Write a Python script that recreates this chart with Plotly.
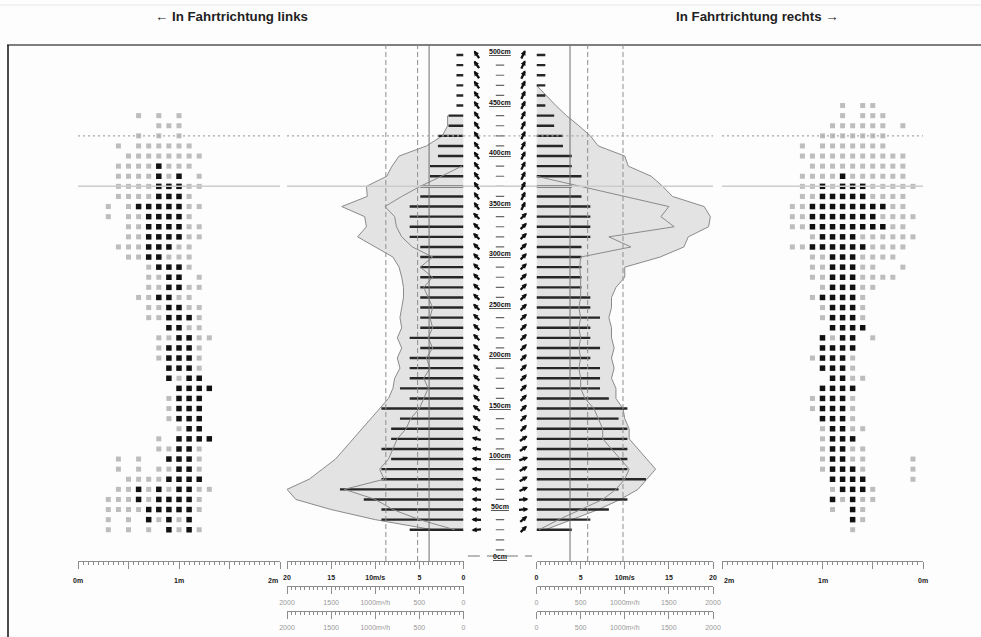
import math
import plotly.graph_objects as go

W, H = 981, 637

# ---------------------------------------------------------------- data
ROW_H = list(range(25, 500, 10))          # measurement rows, cm (25 ... 495)

LEFT_SPEED = [6.1, 9.3, 9.3, 11.3, 14.0, 9.3, 9.3, 8.2, 9.3, 8.2,
              8.2, 7.2, 9.3, 6.1, 7.2, 6.1, 6.1, 6.1, 4.9, 6.1,
              4.9, 4.9, 4.9, 4.9, 4.9, 4.9, 4.9, 4.9, 4.9, 6.1,
              6.1, 6.1, 6.1, 4.9, 4.9, 3.8, 3.8, 2.9, 2.9, 2.9,
              1.7, 1.7, 0.8, 0.8, 0.8, 0.8, 0.8, 0.8]
RIGHT_SPEED = [4.0, 6.1, 8.2, 10.3, 9.3, 12.4, 10.3, 10.3, 10.3, 10.3,
               10.3, 9.3, 10.3, 8.2, 7.2, 7.2, 7.2, 6.1, 7.2, 6.1,
               6.1, 7.2, 6.1, 6.1, 5.1, 5.1, 5.1, 5.1, 5.1, 6.1,
               6.1, 6.1, 6.1, 5.1, 4.0, 5.1, 4.0, 4.0, 3.0, 3.0,
               2.0, 2.0, 1.0, 1.0, 1.0, 1.0, 1.0, 1.0]

# wind direction per row, degrees clockwise from "up"
LEFT_DIR = [-95, -88, -88, -85, -88, -70, -85, -85, -80, -75,
            -55, -55, -50, -45, -45, -45, -45, -45, -45, -45,
            -45, -45, -45, -45, -45, -45, -45, -45, -45, -45,
            -45, -45, -35, -35, -35, -35, -35, -35, -35, -35,
            -35, -35, -35, -35, -35, -35, -35, -35]
RIGHT_DIR = [45, 50, 85, 85, 65, 60, 60, 70, 55, 55,
             45, 45, 45, 45, 45, 45, 45, 45, 45, 45,
             45, 45, 45, 45, 45, 45, 45, 45, 45, 45,
             45, 45, 25, 25, 25, 25, 25, 25, 25, 25,
             25, 25, 25, 25, 25, 25, 25, 25]

# gust envelope (filled) and mean profile, m/s
LEFT_OUT_H = list(range(25, 445, 10))
LEFT_OUT = [3.5, 10.0, 15.0, 19.0, 20.0, 17.5, 16.0, 14.5, 13.5, 12.5,
            11.5, 10.5, 9.5, 8.5, 8.0, 7.8, 7.2, 7.5, 7.0, 7.5,
            7.0, 7.2, 7.0, 6.8, 6.8, 7.0, 7.3, 8.0, 10.0, 12.0,
            11.0, 11.2, 13.8, 10.9, 11.0, 8.7, 8.1, 7.3, 4.2, 2.4,
            1.8, 1.8]
LEFT_IN_H = list(range(25, 395, 10))
LEFT_IN = [1.0, 5.0, 8.0, 10.0, 13.5, 9.0, 9.5, 8.5, 8.0, 7.5,
           6.5, 6.0, 5.0, 4.5, 4.0, 4.5, 3.8, 4.2, 3.5, 4.0,
           3.5, 3.8, 3.5, 4.0, 4.5, 3.5, 4.9, 3.5, 5.8, 7.0,
           7.6, 7.8, 8.9, 7.0, 4.9, 2.5, 0.2]
RIGHT_OUT_H = list(range(25, 475, 10))
RIGHT_OUT = [1.0, 4.0, 7.0, 9.5, 11.5, 12.5, 13.5, 12.5, 11.5, 10.5,
             10.5, 10.0, 9.8, 9.0, 9.0, 8.5, 8.8, 8.5, 8.8, 8.5,
             8.5, 8.2, 8.5, 8.5, 9.0, 10.0, 10.0, 14.0, 16.7, 17.2,
             19.5, 19.7, 19.0, 15.4, 14.3, 13.0, 10.4, 10.0, 7.0, 6.1,
             4.8, 3.4, 2.2, 1.1, 0.0]
RIGHT_IN_H = list(range(25, 385, 10))
RIGHT_IN = [0.3, 2.5, 5.0, 7.5, 9.0, 10.0, 10.5, 9.5, 8.5, 7.5,
            7.5, 7.0, 6.5, 5.5, 5.0, 5.0, 4.8, 5.0, 4.8, 5.0,
            4.8, 5.0, 4.8, 5.0, 5.0, 5.0, 4.9, 5.0, 10.7, 8.2,
            15.6, 14.1, 15.0, 10.0, 5.0, 0.0]

LEFT_REF = [3.9, 5.2, 8.8]     # solid, dashed, dashed
RIGHT_REF = [3.8, 5.8, 9.8]
REF_STYLE = ["solid", "5px,3px", "5px,3px"]

MARK_DOTTED_H = 415
MARK_SOLID_H = 365

# occupancy grids: 'o' occasional, '#' frequent
LEFT_COLS = [0.3, 0.4, 0.5, 0.6, 0.7, 0.8, 0.9, 1.0, 1.1, 1.2, 1.3]
LEFT_GRID_H = list(range(435, 15, -10))
LEFT_GRID = [
    "...o.o.o...", ".....ooo...", "...o.o.o...", ".o.oooooo..",
    "..oooooooo.", ".oooo#ooo..", ".oooo#o#.o.", ".oooo###oo.",
    ".oooo###o..", "o.o#####oo.", "o.oo####o..", "..oo####oo.",
    "..oo####oo.", ".ooo###oo..", "..oo##ooo..", "....o###o..",
    "....oo##.o.", "....oo##oo.", "...oo##oo..", "....oo##oo.",
    "....oo###o.", "......##oo.", ".....oo##oo", ".....o###o.",
    ".....o###o.", "......###o.", "......#o##.", ".......####",
    "......o###.", "......o###.", "......o###.", ".......o##.",
    ".....o.####", ".....oo##o.", ".o.o..###o.", ".o.o.oo##o.",
    "..oooo####.", ".oo#o#o##oo", "ooo#o####o.", "oooo#####o.",
    "o.o.#o#o#..", "o.o.o.#o#o.",
]
RIGHT_COLS = [1.3, 1.2, 1.1, 1.0, 0.9, 0.8, 0.7, 0.6, 0.5, 0.4, 0.3, 0.2, 0.1]
RIGHT_GRID_H = list(range(445, 15, -10))
RIGHT_GRID = [
    ".....o.oo....", ".....o.ooo...", "....oooooo.o.", "...ooooooo...",
    ".o.ooooooo...", ".ooooooooooo.", "..oooooooooo.", ".oooo#oooooo.",
    ".oo#o###ooooo", ".oo#####oooo.", "oo########oo.", "oo#######oooo",
    "oo########oo.", "..o####oooooo", "oo######oooo.", "..oo###oooo..",
    "..oo###oo..o.", "..oo###oooo..", "...o###oo....", "..o####o.....",
    "...o###o.....", "...o###o.....", "....####.....", "...#o##.o....",
    "...####......", "..o###o......", "...###o......", "....##oo.....",
    "...####......", "..o###o......", "..o###o......", "...###o......",
    "...o##oo.....", "...o###......", "...o##oo.....", "...o##oo....o",
    "...o###o....o", "....####....o", "....o###o....", "....#o#oo....",
    "....o.#o.....", "......#o.....", "......o......",
]

HEIGHT_LABELS = list(range(0, 501, 50))

# ---------------------------------------------------------------- layout helpers
FONT = "Liberation Sans, Arial, DejaVu Sans, sans-serif"
AX_GREY = "#8c8c8c"
Y_ZERO_PX, PX_PER_CM = 555.0, 1.01


def fx(px):
    return px / W


def fy(py):
    return 1 - py / H


RULER_PY = [561, 586, 611]

fig = go.Figure()


def grid_traces(cols, heights, rows, xaxis):
    for ch, colour, size in (("o", "#bdbdbd", 5), ("#", "#111111", 5.5)):
        xs, ys = [], []
        for h, row in zip(heights, rows):
            for c, v in zip(cols, row):
                if v == ch:
                    xs.append(c)
                    ys.append(h)
        fig.add_trace(go.Scatter(
            x=xs, y=ys, mode="markers", xaxis=xaxis, yaxis="y",
            marker=dict(symbol="square", size=size, color=colour, line=dict(width=0)),
            hoverinfo="skip", showlegend=False))


grid_traces(LEFT_COLS, LEFT_GRID_H, LEFT_GRID, "x")
grid_traces(RIGHT_COLS, RIGHT_GRID_H, RIGHT_GRID, "x5")


def bar_segments(values, heights):
    xs, ys = [], []
    for v, h in zip(values, heights):
        xs += [0, v, None]
        ys += [h, h, None]
    return xs, ys


for xa, oh, ov, ih, iv, sp in (("x2", LEFT_OUT_H, LEFT_OUT, LEFT_IN_H, LEFT_IN, LEFT_SPEED),
                               ("x4", RIGHT_OUT_H, RIGHT_OUT, RIGHT_IN_H, RIGHT_IN, RIGHT_SPEED)):
    fig.add_trace(go.Scatter(
        x=ov, y=oh, mode="lines", fill="tozerox", fillcolor="#e3e3e3",
        line=dict(color="#8a8a8a", width=1), xaxis=xa, yaxis="y",
        hoverinfo="skip", showlegend=False))
    bx, by = bar_segments(sp, ROW_H)
    fig.add_trace(go.Scatter(
        x=bx, y=by, mode="lines", line=dict(color="#262626", width=2.4),
        xaxis=xa, yaxis="y", hoverinfo="skip", showlegend=False))
    fig.add_trace(go.Scatter(
        x=iv, y=ih, mode="lines", line=dict(color="#8a8a8a", width=1),
        xaxis=xa, yaxis="y", hoverinfo="skip", showlegend=False))

# centre column: row ticks
tick_h = [h for h in [5, 15] + ROW_H if h % 50 != 45]
fig.add_trace(go.Scatter(
    x=[0] * len(tick_h), y=tick_h, mode="markers", xaxis="x3", yaxis="y",
    marker=dict(symbol="line-ew", size=6, line=dict(width=1.2, color="#666")),
    hoverinfo="skip", showlegend=False))

# dummy traces so the overlaid ruler axes exist
for xa in ("x6", "x7", "x8", "x9"):
    fig.add_trace(go.Scatter(x=[None], y=[None], xaxis=xa, yaxis="y",
                             showlegend=False, hoverinfo="skip"))

annotations = []
ARROW_LEN = 11
for dirs, xpos in ((LEFT_DIR, -0.63), (RIGHT_DIR, 0.63)):
    for h, d in zip(ROW_H, dirs):
        t = math.radians(d)
        sx, sy = math.sin(t), math.cos(t)
        annotations.append(dict(
            x=xpos, y=h, xref="x3", yref="y", text="", showarrow=True,
            arrowhead=2, arrowsize=0.45, arrowwidth=2.3, arrowcolor="#111111",
            standoff=0, startstandoff=0,
            ax=-ARROW_LEN * sx, ay=ARROW_LEN * sy, axref="pixel", ayref="pixel",
            xshift=ARROW_LEN / 2 * sx, yshift=ARROW_LEN / 2 * sy))

for h in HEIGHT_LABELS:
    annotations.append(dict(
        x=0, y=h - 1.5, xref="x3", yref="y", xanchor="center", yanchor="middle",
        text="<b><u>%dcm</u></b>" % h,
        showarrow=False, font=dict(family=FONT, size=7, color="#111111")))

# labels of the metre rulers under the occupancy grids
for xa, vals, txt, anchors in (
        ("x", [0, 1, 2], ["0m", "1m", "2m"], ["center", "center", "right"]),
        ("x5", [2, 1, 0], ["2m", "1m", "0m"], ["left", "center", "center"])):
    for v, t, a in zip(vals, txt, anchors):
        annotations.append(dict(
            x=v, y=fy(580), xref=xa, yref="paper", xanchor=a, yanchor="middle",
            text="<b>%s</b>" % t, showarrow=False,
            font=dict(family=FONT, size=7, color="#222")))

annotations += [
    dict(x=fx(231), y=fy(17), xref="paper", yref="paper", showarrow=False,
         xanchor="center", yanchor="middle",
         text="<b>← In Fahrtrichtung links</b>",
         font=dict(family=FONT, size=13.3, color="#222")),
    dict(x=fx(757), y=fy(17), xref="paper", yref="paper", showarrow=False,
         xanchor="center", yanchor="middle",
         text="<b>In Fahrtrichtung rechts →</b>",
         font=dict(family=FONT, size=13.3, color="#222")),
]

shapes = [
    dict(type="line", xref="paper", yref="paper", x0=0, x1=1, y0=fy(5), y1=fy(5),
         line=dict(color="#e6e6e6", width=1)),
    dict(type="line", xref="paper", yref="paper", x0=fx(7), x1=1, y0=fy(45), y1=fy(45),
         line=dict(color="#555", width=1.5)),
    dict(type="line", xref="paper", yref="paper", x0=fx(8), x1=fx(8), y0=0, y1=fy(45),
         line=dict(color="#111", width=1.5)),
    dict(type="line", xref="x3 domain", yref="y", x0=0.06, x1=0.94, y0=-1, y1=-1,
         line=dict(color="#777", width=1, dash="12px,7px")),
]
for xa, refs in (("x2", LEFT_REF), ("x4", RIGHT_REF)):
    for v, st in zip(refs, REF_STYLE):
        shapes.append(dict(
            type="line", xref=xa, yref="paper", x0=v, x1=v, y0=fy(RULER_PY[0]), y1=fy(45),
            line=dict(color="#6e6e6e" if st == "solid" else "#8e8e8e", width=1, dash=st)))
for xa in ("x", "x2", "x3", "x4", "x5"):
    shapes.append(dict(type="line", xref=xa + " domain", yref="y", x0=0, x1=1,
                       y0=MARK_DOTTED_H, y1=MARK_DOTTED_H,
                       line=dict(color="#a8a8a8", width=1.2, dash="2px,3px")))
    shapes.append(dict(type="line", xref=xa + " domain", yref="y", x0=0, x1=1,
                       y0=MARK_SOLID_H, y1=MARK_SOLID_H,
                       line=dict(color="#cccccc", width=1.5)))


def ruler(domain, rng, vals, texts, py, minor, color="#222", overlaying=None):
    ax = dict(
        range=rng, anchor="free", position=fy(py), side="bottom",
        showline=True, linecolor=AX_GREY, linewidth=1, showgrid=False, zeroline=False,
        ticks="outside", ticklen=7, tickwidth=1, tickcolor=AX_GREY,
        tickvals=vals, ticktext=texts, ticklabelstandoff=3,
        tickfont=dict(family=FONT, size=7, color=color),
        minor=dict(dtick=minor, tick0=0, ticks="outside", ticklen=3,
                   tickcolor=AX_GREY, tickwidth=1, showgrid=False),
        fixedrange=True)
    if overlaying:
        ax["overlaying"] = overlaying
    else:
        ax["domain"] = domain
    return ax


D_LDOT = [fx(78), fx(280)]
D_LSPD = [fx(287), fx(463.5)]
D_MID = [fx(463.5), fx(536.5)]
D_RSPD = [fx(536.5), fx(713)]
D_RDOT = [fx(722), fx(923)]

m_vals = [0, 0.5, 1, 1.5, 2]
spd_vals = [0, 5, 10, 15, 20]
spd_txt = ["<b>0</b>", "<b>5</b>", "<b>10m/s</b>", "<b>15</b>", "<b>20</b>"]
q_vals = [0, 500, 1000, 1500, 2000]
q_txt = ["0", "500", "1000m³/h", "1500", "2000"]

layout_axes = dict(
    xaxis=ruler(D_LDOT, [0, 2], m_vals, [""] * 5, RULER_PY[0], 0.05),
    xaxis2=ruler(D_LSPD, [20, 0], spd_vals, spd_txt, RULER_PY[0], 0.5),
    xaxis3=dict(domain=D_MID, range=[-1, 1], visible=False, fixedrange=True),
    xaxis4=ruler(D_RSPD, [0, 20], spd_vals, spd_txt, RULER_PY[0], 0.5),
    xaxis5=ruler(D_RDOT, [2, 0], m_vals, [""] * 5, RULER_PY[0], 0.05),
    xaxis6=ruler(None, [2000, 0], q_vals, q_txt, RULER_PY[1], 50, "#999", "x2"),
    xaxis7=ruler(None, [2000, 0], q_vals, q_txt, RULER_PY[2], 50, "#999", "x2"),
    xaxis8=ruler(None, [0, 2000], q_vals, q_txt, RULER_PY[1], 50, "#999", "x4"),
    xaxis9=ruler(None, [0, 2000], q_vals, q_txt, RULER_PY[2], 50, "#999", "x4"),
    yaxis=dict(domain=[0, 1], range=[(Y_ZERO_PX - H) / PX_PER_CM, Y_ZERO_PX / PX_PER_CM],
               visible=False, anchor="x3", fixedrange=True),
)

fig.update_layout(
    width=W, height=H, autosize=False, margin=dict(l=0, r=0, t=0, b=0, pad=0, autoexpand=False),
    paper_bgcolor="#fdfdfd", plot_bgcolor="rgba(0,0,0,0)",
    showlegend=False, annotations=annotations, shapes=shapes, **layout_axes)

fig.write_html(
    "out.html",
    config=dict(displayModeBar=False, responsive=False, staticPlot=True),
    post_script="document.documentElement.style.overflow='hidden';"
                "document.body.style.margin='0';document.body.style.overflow='hidden';")
